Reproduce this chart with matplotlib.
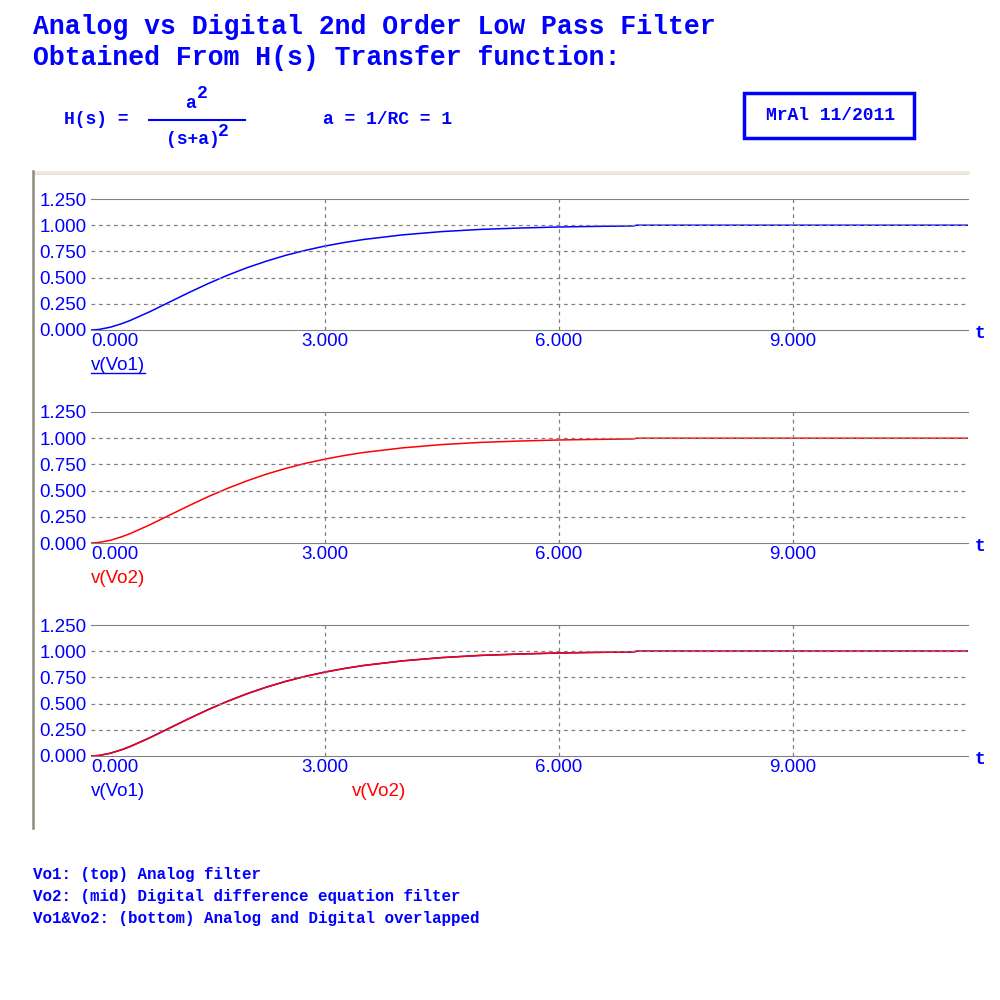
import matplotlib
matplotlib.use("Agg")
import matplotlib.pyplot as plt
from matplotlib.lines import Line2D
from matplotlib.patches import Rectangle

# time axis and step responses
t = [0.0, 0.1, 0.25, 0.4, 0.5, 0.75, 1.0, 1.25, 1.5, 1.75, 2.0, 2.25, 2.5,
     2.75, 3.0, 3.25, 3.5, 4.0, 4.5, 5.0, 5.5, 6.0, 6.5, 6.96, 7.0, 11.25]
vo1 = [0.0, 0.005, 0.027, 0.062, 0.090, 0.173, 0.264, 0.355, 0.442, 0.522,
       0.594, 0.657, 0.713, 0.760, 0.801, 0.835, 0.864, 0.908, 0.939, 0.960,
       0.973, 0.983, 0.989, 0.993, 1.0, 1.0]
vo2 = [0.0, 0.005, 0.026, 0.061, 0.089, 0.172, 0.263, 0.354, 0.441, 0.521,
       0.593, 0.657, 0.712, 0.760, 0.800, 0.835, 0.864, 0.908, 0.939, 0.960,
       0.973, 0.983, 0.989, 0.993, 1.0, 1.0]

yticks = [0.0, 0.25, 0.5, 0.75, 1.0, 1.25]
xticks = [0.0, 3.0, 6.0, 9.0]
xmax = 11.25

BLUE = "#0000ff"
RED = "#ff0000"
GRID = "#808080"
mono = "Liberation Mono"
sans = "Liberation Sans"

fig = plt.figure(figsize=(10, 10), dpi=100)

# title and formula block
fig.text(0.033, 0.973, "Analog vs Digital 2nd Order Low Pass Filter",
         family=mono, weight="bold", size=19.1, color=BLUE, va="center")
fig.text(0.033, 0.942, "Obtained From H(s) Transfer function:",
         family=mono, weight="bold", size=19.1, color=BLUE, va="center")
fig.text(0.064, 0.880, "H(s) =", family=mono, weight="bold", size=13,
         color=BLUE, va="center")
fig.text(0.190, 0.897, "a", family=mono, weight="bold", size=13,
         color=BLUE, va="center", ha="center")
fig.text(0.197, 0.906, "2", family=mono, weight="bold", size=13,
         color=BLUE, va="center")
fig.add_artist(Line2D([0.149, 0.245], [0.880, 0.880], color=BLUE, lw=1.5))
fig.text(0.166, 0.861, "(s+a)", family=mono, weight="bold", size=13,
         color=BLUE, va="center")
fig.text(0.218, 0.869, "2", family=mono, weight="bold", size=13,
         color=BLUE, va="center")
fig.text(0.323, 0.880, "a = 1/RC = 1", family=mono, weight="bold", size=13,
         color=BLUE, va="center")
fig.add_artist(Rectangle((0.744, 0.862), 0.170, 0.045, fill=False,
                         edgecolor=BLUE, lw=2.5))
fig.text(0.830, 0.885, "MrAl 11/2011", family=mono, weight="bold", size=13,
         color=BLUE, va="center", ha="center")

# outer frame lines
fig.add_artist(Line2D([0.033, 0.968], [0.828, 0.828], color="#ece9d8", lw=2))
fig.add_artist(Line2D([0.033, 0.968], [0.826, 0.826], color="#e8d8d0", lw=0.6))
fig.add_artist(Line2D([0.033, 0.033], [0.172, 0.829], color="#8c8c7c", lw=1.8))

bottoms = [0.670, 0.457, 0.244]
series = [[(vo1, BLUE)], [(vo2, RED)], [(vo1, BLUE), (vo2, RED)]]
labels = [[("v(Vo1)", BLUE, 0.0)], [("v(Vo2)", RED, 0.0)],
          [("v(Vo1)", BLUE, 0.0), ("v(Vo2)", RED, 0.298)]]

for i in range(3):
    ax = fig.add_axes([0.091, bottoms[i], 0.877, 0.131])
    for ys, c in series[i]:
        ax.plot(t, ys, color=c, lw=1.1, solid_joinstyle="miter")
    ax.set_xlim(0, xmax)
    ax.set_ylim(0, 1.25)
    ax.set_yticks(yticks)
    ax.set_yticklabels(["%.3f" % v for v in yticks])
    ax.set_xticks(xticks)
    ax.set_xticklabels(["%.3f" % v for v in xticks])
    ax.tick_params(length=0, colors=BLUE, labelsize=13.5, pad=3)
    for lab in ax.get_xticklabels() + ax.get_yticklabels():
        lab.set_family(sans)
    ax.get_xticklabels()[0].set_horizontalalignment("left")
    ax.tick_params(axis="x", pad=2)
    for v in yticks[1:-1]:
        ax.axhline(v, color=GRID, lw=0.9, ls=(0, (3, 3)))
    for v in xticks[1:]:
        ax.axvline(v, color=GRID, lw=0.9, ls=(0, (3, 3)))
    ax.spines["left"].set_visible(False)
    ax.spines["right"].set_visible(False)
    ax.spines["top"].set_color(GRID)
    ax.spines["bottom"].set_color(GRID)
    ax.text(1.008, -0.03, "t", transform=ax.transAxes, family=mono,
            weight="bold", size=13, color=BLUE, va="center")
    for txt, c, xo in labels[i]:
        lt = ax.text(xo, -0.27, txt, transform=ax.transAxes, family=sans,
                     size=13.5, color=c, va="center", ha="left")
        if i == 0:
            fig.canvas.draw()
            bb = lt.get_window_extent().transformed(fig.transFigure.inverted())
            fig.add_artist(Line2D([bb.x0, bb.x1], [bb.y0 + 0.001, bb.y0 + 0.001],
                                  color=c, lw=1))

notes = ["Vo1: (top) Analog filter",
         "Vo2: (mid) Digital difference equation filter",
         "Vo1&Vo2: (bottom) Analog and Digital overlapped"]
for k, n in enumerate(notes):
    fig.text(0.033, 0.125 - k * 0.0215, n, family=mono, weight="bold",
             size=11.4, color=BLUE, va="center")

fig.savefig("out.png", dpi=100)
